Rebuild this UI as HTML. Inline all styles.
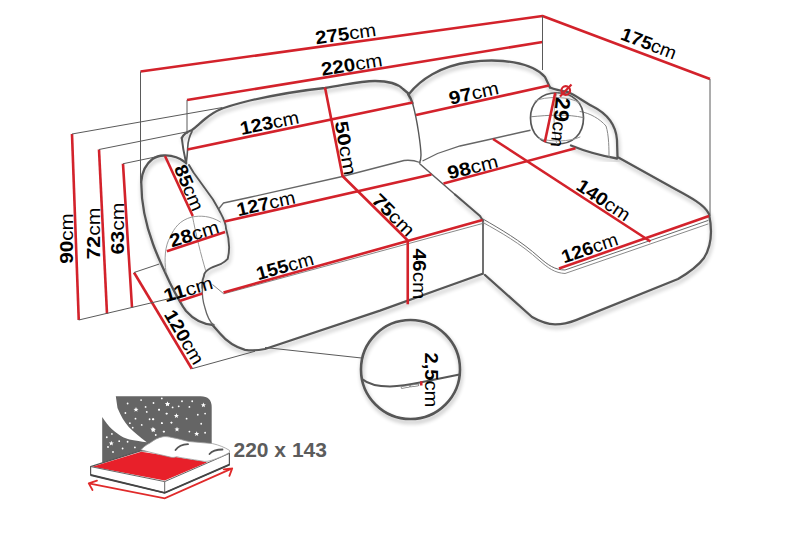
<!DOCTYPE html>
<html><head><meta charset="utf-8"><style>
html,body{margin:0;padding:0;background:#fff;width:800px;height:533px;overflow:hidden}
svg{display:block;font-family:"Liberation Sans",sans-serif}
</style></head><body>
<svg width="800" height="533" viewBox="0 0 800 533">
<defs><filter id="sh" x="-20%" y="-20%" width="140%" height="140%"><feGaussianBlur in="SourceAlpha" stdDeviation="2.2"/><feOffset dx="1" dy="3"/><feComponentTransfer><feFuncA type="linear" slope="0.3"/></feComponentTransfer><feMerge><feMergeNode/><feMergeNode in="SourceGraphic"/></feMerge></filter></defs>
<path d="M181.75,138 C184,133 188,131.5 192,130 C196,127 200,123 205,119 C210,115 214,112 220,109.5 C228,106 238,103.5 250,100.5 C275,95 300,90.5 325,88 C345,85 360,81 375,81 C388,81 398,84 403,89 L409,94" stroke="#575757" stroke-width="2.3" fill="none" stroke-linejoin="round" stroke-linecap="round" filter="url(#sh)"/>
<path d="M408,94 C410,97 411.5,100 412.5,103" stroke="#575757" stroke-width="2.3" fill="none" stroke-linejoin="round" stroke-linecap="round" filter="url(#sh)"/>
<path d="M412.5,103 C415,112 417,122 418.5,132 C420,142 421,150 421,155 C421,159 420.5,161 419.5,163" stroke="#575757" stroke-width="1.4" fill="none" stroke-linejoin="round" stroke-linecap="round" />
<path d="M181.75,138 C183,150 185,158 186.25,163.5" stroke="#575757" stroke-width="2" fill="none" stroke-linejoin="round" stroke-linecap="round" />
<path d="M409,94 C420,80 440,66 470,62 C500,58 532,62 545,77 L550,87.5" stroke="#575757" stroke-width="2.3" fill="none" stroke-linejoin="round" stroke-linecap="round" filter="url(#sh)"/>
<path d="M550,87.5 C556,90 562,91 568,92 C575,95 583,101 592,106 C608,114 616,125 617,140 L617.5,157 L675,189 C690,197 705,205 709,214 C712,228 712,245 704,258 C698,266 690,272 678,279 L576,320.1 C569,322.8 562,324.5 555,324.4 C547,324.2 540,321.5 532,317 L485,275" stroke="#575757" stroke-width="2.3" fill="none" stroke-linejoin="round" stroke-linecap="round" filter="url(#sh)"/>
<path d="M483,220 L483,274" stroke="#575757" stroke-width="1.7" fill="none" stroke-linejoin="round" stroke-linecap="round" />
<path d="M482,274 L440,289 L380,310.6 L265,349 C258,350.5 250,350.5 245,349.8 C235,347 228,343 220,333.5 L212.5,325" stroke="#575757" stroke-width="2.3" fill="none" stroke-linejoin="round" stroke-linecap="round" filter="url(#sh)"/>
<path d="M420,164 L455,194.5" stroke="#5e5e5e" stroke-width="1.5" fill="none" stroke-linejoin="round" stroke-linecap="round" />
<path d="M455,194.5 L480,216 L482.5,220" stroke="#575757" stroke-width="2.1" fill="none" stroke-linejoin="round" stroke-linecap="round" filter="url(#sh)"/>
<path d="M213.5,325 C204,324.5 194,320 186,311 C180,303 175,293 170,283 C165,272 158,258 153,244 C146,225 141,205 141.3,181.5 C142,172 146,164 152.5,159 C156,156.5 160,155.6 164,155.5 C171,155.2 178,156.5 186,162.75" stroke="#575757" stroke-width="2.3" fill="none" stroke-linejoin="round" stroke-linecap="round" filter="url(#sh)"/>
<path d="M189,165 L193.5,172.5 L213,199.5 L219,210 C222,216 226,222 226,228.5 C229,238 230,250 227.7,258.9 C225,262 223,263 220.9,264 C215,266 212,267 209.1,269 C206,271 204,273 204,275.8 C202,280 202,284 202.35,288" stroke="#575757" stroke-width="1.9" fill="none" stroke-linejoin="round" stroke-linecap="round" filter="url(#sh)"/>
<path d="M202.35,288 C202,295 203,302 205,308 C207,316 209,321 213.5,325" stroke="#666" stroke-width="1.3" fill="none" stroke-linejoin="round" stroke-linecap="round" />
<path d="M192,131.5 C189.5,136 188,142 187.75,147 C187.5,152 187,158 186.25,163.5" stroke="#575757" stroke-width="1.6" fill="none" stroke-linejoin="round" stroke-linecap="round" />
<path d="M219,208.5 L223.5,203 L250,197.25 L342.3,176.5 L404,160.5 C412,159.5 416,161 420,162.5" stroke="#666" stroke-width="1.3" fill="none" stroke-linejoin="round" stroke-linecap="round" />
<path d="M422.5,161 L437.5,153.5 L460,146 L487,140 L520,132.5 L530.5,130.25" stroke="#666" stroke-width="1.3" fill="none"/>
<path d="M571,145.5 C582,150 597,155 617,158.5" stroke="#575757" stroke-width="2.3" fill="none" stroke-linejoin="round" stroke-linecap="round" filter="url(#sh)"/>
<path d="M580,111.5 C590,113 600,119 606,126 C609,135 609,150 609,157.5" stroke="#888" stroke-width="1" fill="none" stroke-linejoin="round" stroke-linecap="round" />
<path d="M483,219 C500,229 520,240 540,258 C548,265 555,270 565,270 L708,220.5" stroke="#6a6a6a" stroke-width="1" fill="none" stroke-linejoin="round" stroke-linecap="round" />
<path d="M483,222.5 C500,232 520,243 540,261 C548,268 555,273 565,273.5 L708,224" stroke="#8a8a8a" stroke-width="1" fill="none" stroke-linejoin="round" stroke-linecap="round" />
<path d="M212.5,284.5 L223.75,293.8 L482.5,223.5" stroke="#888" stroke-width="1" fill="none"/>
<path d="M166,272 C164,260 165,245 170.3,237 C174,228 180,220 192,217 C200,215.5 210,215.5 220.5,222" stroke="#999" stroke-width="1" fill="none" stroke-linejoin="round" stroke-linecap="round" />
<path d="M192.2,215 C196,235 201,255 205.7,270.7" stroke="#999" stroke-width="1" fill="none" stroke-linejoin="round" stroke-linecap="round" />
<path d="M557,92.75 C573,92.75 583.5,103 583.5,118 C583.5,134 573,144 557,144 C541,144 530.5,134 530.5,118 C530.5,103 541,92.75 557,92.75 Z" stroke="#575757" stroke-width="1.7" fill="none" stroke-linejoin="round" stroke-linecap="round" />
<path d="M531.25,116.75 C540,116 550,115 557.5,115.25 C567,115 576,116 583,117.5" stroke="#888" stroke-width="1" fill="none" stroke-linejoin="round" stroke-linecap="round" />
<path d="M535,101 C545,96 570,96 580,103" stroke="#999" stroke-width="1" fill="none" stroke-linejoin="round" stroke-linecap="round" />
<path d="M539.5,138.5 C550,142 570,142 580,137" stroke="#999" stroke-width="1" fill="none" stroke-linejoin="round" stroke-linecap="round" />
<path d="M557,93 C553,105 553,130 557,145" stroke="#aaa" stroke-width="1" fill="none" stroke-linejoin="round" stroke-linecap="round" />
<path d="M140.5,71.5 L542.5,16 L710,79" stroke="#d3222b" stroke-width="2.6" fill="none" stroke-linejoin="round"/>
<path d="M187,100 L542.5,42" stroke="#d3222b" stroke-width="2.6" fill="none" stroke-linejoin="round"/>
<path d="M187.5,149.5 L412.5,102.5" stroke="#d3222b" stroke-width="2.6" fill="none" stroke-linejoin="round"/>
<path d="M416,115 L549,85.5" stroke="#d3222b" stroke-width="2.6" fill="none" stroke-linejoin="round"/>
<path d="M325,87.5 L342.5,176 L407.75,240.5 L407.75,304.25" stroke="#d3222b" stroke-width="2.6" fill="none" stroke-linejoin="round"/>
<path d="M224.5,221.6 L431.5,174.5" stroke="#d3222b" stroke-width="2.6" fill="none" stroke-linejoin="round"/>
<path d="M443.5,183.5 L575.5,148.25" stroke="#d3222b" stroke-width="2.6" fill="none" stroke-linejoin="round"/>
<path d="M493,139 L650.5,241.5" stroke="#d3222b" stroke-width="2.6" fill="none" stroke-linejoin="round"/>
<path d="M559,268.5 L709,216" stroke="#d3222b" stroke-width="2.6" fill="none" stroke-linejoin="round"/>
<path d="M223.5,292.5 L482.5,220" stroke="#d3222b" stroke-width="2.6" fill="none" stroke-linejoin="round"/>
<path d="M165,156 L192.75,216" stroke="#d3222b" stroke-width="2.6" fill="none" stroke-linejoin="round"/>
<path d="M166.9,251.3 L225.1,231.9" stroke="#d3222b" stroke-width="2.6" fill="none" stroke-linejoin="round"/>
<path d="M179.55,301.1 L202.35,293.5" stroke="#d3222b" stroke-width="2.6" fill="none" stroke-linejoin="round"/>
<path d="M134,272.5 L191.75,368.75" stroke="#d3222b" stroke-width="2.6" fill="none" stroke-linejoin="round"/>
<path d="M72,134 L78.75,320" stroke="#d3222b" stroke-width="2.6" fill="none" stroke-linejoin="round"/>
<path d="M99,149.5 L107,313.75" stroke="#d3222b" stroke-width="2.6" fill="none" stroke-linejoin="round"/>
<path d="M123,163.75 L132,307.5" stroke="#d3222b" stroke-width="2.6" fill="none" stroke-linejoin="round"/>
<path d="M555.25,92.75 L544.75,142.25" stroke="#d3222b" stroke-width="2.6" fill="none" stroke-linejoin="round"/>
<circle cx="565.75" cy="90.5" r="4.3" stroke="#d3222b" stroke-width="2.2" fill="none"/>
<path d="M560,96.5 L571.5,84.5" stroke="#d3222b" stroke-width="2.2" fill="none" stroke-linejoin="round"/>
<path d="M140.5,71.5 L140.5,183" stroke="#5a5a5a" stroke-width="1.0" fill="none"/>
<path d="M187,100 L187,134" stroke="#5a5a5a" stroke-width="1.0" fill="none"/>
<path d="M542.5,16 L542.5,70" stroke="#5a5a5a" stroke-width="1.0" fill="none"/>
<path d="M710,79 L710,216" stroke="#5a5a5a" stroke-width="1.0" fill="none"/>
<path d="M72,134 L222.5,107.5" stroke="#5a5a5a" stroke-width="1.0" fill="none"/>
<path d="M99,149.5 L190,131.25" stroke="#5a5a5a" stroke-width="1.0" fill="none"/>
<path d="M123,163.75 L160,156" stroke="#5a5a5a" stroke-width="1.0" fill="none"/>
<path d="M78.75,320 L180.4,296" stroke="#5a5a5a" stroke-width="1.0" fill="none"/>
<path d="M134,272.5 L159.3,264" stroke="#5a5a5a" stroke-width="1.0" fill="none"/>
<path d="M191.75,368.75 L255,351.25" stroke="#5a5a5a" stroke-width="1.0" fill="none"/>
<path d="M265,347.5 L361.5,358" stroke="#5a5a5a" stroke-width="1.0" fill="none"/>
<circle cx="410.5" cy="369.5" r="49.5" stroke="#575757" stroke-width="2.6" fill="none" filter="url(#sh)"/>
<path d="M362,379 C368,384 378,386.5 390,386.5 C400,386 410,384.5 420,382.5 L459.5,374.5" stroke="#575757" stroke-width="2.2" fill="none" stroke-linejoin="round" stroke-linecap="round" />
<path d="M402,387.5 L409,386.3 M411,386 L418,385" stroke="#777" stroke-width="2.6" fill="none" stroke-linejoin="round" stroke-linecap="round" />
<path d="M402,387.5 L409,386.3 M411,386 L418,385" stroke="#fff" stroke-width="1.0" fill="none" stroke-linejoin="round" stroke-linecap="round" />
<rect x="420" y="381.3" width="2.5" height="4.2" fill="#d3222b"/>
<text transform="translate(316.1990277201817,44.34622900215229) rotate(-8) scale(1.104,1)" font-size="18.5"><tspan font-weight="bold">275</tspan>cm</text>
<text transform="translate(322.2223400381555,75.72509804585248) rotate(-9) scale(1.113,1)" font-size="18.5"><tspan font-weight="bold">220</tspan>cm</text>
<text transform="translate(619.5,39) rotate(21) scale(1.045,1)" font-size="18.5"><tspan font-weight="bold">175</tspan>cm</text>
<text transform="translate(241.52897660624663,135.02051912251406) rotate(-11.5) scale(1.076,1)" font-size="18.5"><tspan font-weight="bold">123</tspan>cm</text>
<text transform="translate(450.55095542802707,104.74800439674179) rotate(-12.5) scale(1.116,1)" font-size="18.5"><tspan font-weight="bold">97</tspan>cm</text>
<text transform="translate(334.6964365481486,122.2452800195126) rotate(80) scale(1.207,1)" font-size="18.5"><tspan font-weight="bold">50</tspan>cm</text>
<text transform="translate(370.6464466094067,201.26776695296638) rotate(45) scale(1.139,1)" font-size="18.5"><tspan font-weight="bold">75</tspan>cm</text>
<text transform="translate(412.5,248.5) rotate(90) scale(1.128,1)" font-size="18.5"><tspan font-weight="bold">46</tspan>cm</text>
<text transform="translate(238.2009554280271,216.1480043967418) rotate(-12.5) scale(1.072,1)" font-size="18.5"><tspan font-weight="bold">127</tspan>cm</text>
<text transform="translate(449.3331785696755,179.46352169381433) rotate(-14) scale(1.139,1)" font-size="18.5"><tspan font-weight="bold">98</tspan>cm</text>
<text transform="translate(575.005980344099,188.80276571841281) rotate(33.5) scale(1.082,1)" font-size="18.5"><tspan font-weight="bold">140</tspan>cm</text>
<text transform="translate(564,263.5) rotate(-19) scale(1.054,1)" font-size="18.5"><tspan font-weight="bold">126</tspan>cm</text>
<text transform="translate(258.364488017326,280.17820730373467) rotate(-15.5) scale(1.057,1)" font-size="18.5"><tspan font-weight="bold">155</tspan>cm</text>
<text transform="translate(173.7599738483106,168.00660154618635) rotate(67) scale(1.070,1)" font-size="18.5"><tspan font-weight="bold">85</tspan>cm</text>
<text transform="translate(171.69486231304714,247.39208542922182) rotate(-17) scale(1.125,1)" font-size="18.5"><tspan font-weight="bold">28</tspan>cm</text>
<text transform="translate(165.7247177296638,302.2662551880905) rotate(-16) scale(1.139,1)" font-size="18.5"><tspan font-weight="bold">11</tspan>cm</text>
<text transform="translate(163.5,314.5) rotate(59.5) scale(1.081,1)" font-size="18.5"><tspan font-weight="bold">120</tspan>cm</text>
<text transform="translate(72.5,263.8) rotate(-90) scale(1.116,1)" font-size="18.5"><tspan font-weight="bold">90</tspan>cm</text>
<text transform="translate(100.2,259.5) rotate(-90) scale(1.150,1)" font-size="18.5"><tspan font-weight="bold">72</tspan>cm</text>
<text transform="translate(123.8,254.5) rotate(-90) scale(1.150,1)" font-size="18.5"><tspan font-weight="bold">63</tspan>cm</text>
<text transform="translate(555.9036886936799,96.8377292004668) rotate(96) scale(1.040,1)" font-size="18.5"><tspan font-weight="bold" font-size="21">29</tspan>cm</text>
<text transform="translate(424.8,352.4) rotate(90) scale(1.092,1)" font-size="18.5"><tspan font-weight="bold">2,5</tspan>cm</text>
<path d="M115.8,396.2 L200.6,396.2 Q211.7,396.2 211.7,407.3 L211.7,462 L102.2,470 L102.2,417 C108.5,427.1 115.25,432.75 123.1,437.25 C128,439.5 134.4,440.6 146.75,442.3 C140,437.25 134.4,432.75 128.75,427.1 C124,421.5 120.9,415.9 117.5,408 Z" fill="#656565"/>
<polygon points="136.00,407.10 136.69,408.75 138.47,408.90 137.11,410.06 137.53,411.80 136.00,410.87 134.47,411.80 134.89,410.06 133.53,408.90 135.31,408.75" fill="#fff"/>
<polygon points="167.60,401.50 168.29,403.15 170.07,403.30 168.71,404.46 169.13,406.20 167.60,405.27 166.07,406.20 166.49,404.46 165.13,403.30 166.91,403.15" fill="#fff"/>
<polygon points="152.90,426.80 153.59,428.45 155.37,428.60 154.01,429.76 154.43,431.50 152.90,430.57 151.37,431.50 151.79,429.76 150.43,428.60 152.21,428.45" fill="#fff"/>
<polygon points="111.30,440.80 111.99,442.45 113.77,442.60 112.41,443.76 112.83,445.50 111.30,444.57 109.77,445.50 110.19,443.76 108.83,442.60 110.61,442.45" fill="#fff"/>
<polygon points="167.40,401.40 168.09,403.05 169.87,403.20 168.51,404.36 168.93,406.10 167.40,405.17 165.87,406.10 166.29,404.36 164.93,403.20 166.71,403.05" fill="#fff"/>
<polygon points="203.40,402.60 204.09,404.25 205.87,404.40 204.51,405.56 204.93,407.30 203.40,406.37 201.87,407.30 202.29,405.56 200.93,404.40 202.71,404.25" fill="#fff"/>
<polygon points="176.40,413.30 177.09,414.95 178.87,415.10 177.51,416.26 177.93,418.00 176.40,417.07 174.87,418.00 175.29,416.26 173.93,415.10 175.71,414.95" fill="#fff"/>
<polygon points="153.40,427.40 154.09,429.05 155.87,429.20 154.51,430.36 154.93,432.10 153.40,431.17 151.87,432.10 152.29,430.36 150.93,429.20 152.71,429.05" fill="#fff"/>
<polygon points="177.00,426.80 177.69,428.45 179.47,428.60 178.11,429.76 178.53,431.50 177.00,430.57 175.47,431.50 175.89,429.76 174.53,428.60 176.31,428.45" fill="#fff"/>
<polygon points="196.70,431.30 197.39,432.95 199.17,433.10 197.81,434.26 198.23,436.00 196.70,435.07 195.17,436.00 195.59,434.26 194.23,433.10 196.01,432.95" fill="#fff"/>
<circle cx="127.6" cy="403.5" r="0.9" fill="#fff"/>
<circle cx="141.1" cy="400.1" r="0.9" fill="#fff"/>
<circle cx="145.6" cy="406.9" r="0.9" fill="#fff"/>
<circle cx="146.75" cy="411.9" r="0.9" fill="#fff"/>
<circle cx="153.5" cy="403" r="0.9" fill="#fff"/>
<circle cx="159.1" cy="409.7" r="0.9" fill="#fff"/>
<circle cx="166.4" cy="413.6" r="0.9" fill="#fff"/>
<circle cx="161.9" cy="423.2" r="0.9" fill="#fff"/>
<circle cx="171.5" cy="422.6" r="0.9" fill="#fff"/>
<circle cx="172.6" cy="407.4" r="0.9" fill="#fff"/>
<circle cx="135.5" cy="418.7" r="0.9" fill="#fff"/>
<circle cx="149.6" cy="419.25" r="0.9" fill="#fff"/>
<circle cx="152.9" cy="419.25" r="0.9" fill="#fff"/>
<circle cx="129.9" cy="423.2" r="0.9" fill="#fff"/>
<circle cx="141.7" cy="424.9" r="0.9" fill="#fff"/>
<circle cx="132.7" cy="427.7" r="0.9" fill="#fff"/>
<circle cx="163.6" cy="431.6" r="0.9" fill="#fff"/>
<circle cx="111.9" cy="433.9" r="0.9" fill="#fff"/>
<circle cx="106.8" cy="437.25" r="0.9" fill="#fff"/>
<circle cx="127.6" cy="441.75" r="0.9" fill="#fff"/>
<circle cx="119.2" cy="441.2" r="0.9" fill="#fff"/>
<circle cx="122.6" cy="448.5" r="0.9" fill="#fff"/>
<circle cx="134.9" cy="447.4" r="0.9" fill="#fff"/>
<circle cx="125.4" cy="413" r="0.9" fill="#fff"/>
<circle cx="155.75" cy="435" r="0.9" fill="#fff"/>
<circle cx="192.2" cy="401.25" r="0.9" fill="#fff"/>
<circle cx="178.7" cy="406.3" r="0.9" fill="#fff"/>
<circle cx="189.4" cy="406.9" r="0.9" fill="#fff"/>
<circle cx="159" cy="409.7" r="0.9" fill="#fff"/>
<circle cx="166.9" cy="413.6" r="0.9" fill="#fff"/>
<circle cx="197.8" cy="414.75" r="0.9" fill="#fff"/>
<circle cx="205.1" cy="413.6" r="0.9" fill="#fff"/>
<circle cx="186.6" cy="418.7" r="0.9" fill="#fff"/>
<circle cx="153.4" cy="419.25" r="0.9" fill="#fff"/>
<circle cx="161.8" cy="423.2" r="0.9" fill="#fff"/>
<circle cx="171.4" cy="422.6" r="0.9" fill="#fff"/>
<circle cx="201.2" cy="423.75" r="0.9" fill="#fff"/>
<circle cx="164.1" cy="431.6" r="0.9" fill="#fff"/>
<circle cx="189.4" cy="431.6" r="0.9" fill="#fff"/>
<circle cx="205.1" cy="432.75" r="0.9" fill="#fff"/>
<circle cx="182" cy="401.25" r="0.9" fill="#fff"/>
<circle cx="161.8" cy="398.4" r="0.9" fill="#fff"/>
<circle cx="113" cy="452" r="0.9" fill="#fff"/>
<circle cx="108" cy="447" r="0.9" fill="#fff"/>
<circle cx="118" cy="428" r="0.9" fill="#fff"/>
<path d="M90.6,466.6 L141.25,450.6 L229.4,453.4 L229.4,464.7 L164.7,492.8 L90.6,475 Z" fill="#fff" stroke="#555" stroke-width="1.2" stroke-linejoin="round"/>
<path d="M92.5,466.8 L141.25,451.8 L204.3,461.4 L207,462.5 L164.7,480.6 Z" fill="#e8202a"/>
<path d="M90.6,466.6 L164.7,481.6 L229.4,453.4 M164.7,481.6 L164.7,492.8" stroke="#666" stroke-width="1" fill="none"/>
<path d="M90.6,475 L164.7,492.8 L229.4,464.7" stroke="#444" stroke-width="1.8" fill="none"/>
<path d="M141,449.75 C143,447.5 146,445 150,443 C154,440 158,437.5 163,436.7 C166,436.3 169,437 171.25,437.4 C178,438.5 184,440.5 189,441.5 C197,442.3 205,442.8 212.5,443.6 C219,445 225,447.5 229.5,450.4 L229.5,452.5 C225,455 219,458 210,460.8 C208,461.2 206,461.5 204.3,461.4 C196,460 186,458.5 180,457.5 C178,457 177,456.6 176.5,456.6 C175,457.5 173,457.5 171.25,457.3 C162,455 150,452.5 141,449.75 Z" fill="#fff" stroke="#999" stroke-width="0.8"/>
<path d="M175.5,450 C178,446.5 182,444.5 188,444.2" stroke="#555" stroke-width="1.8" fill="none" stroke-linecap="round"/>
<path d="M209.5,454 C212,451 216,449.5 222.5,449.5" stroke="#555" stroke-width="1.8" fill="none" stroke-linecap="round"/>
<path d="M88.75,483.4 L164.7,498.4 L232.2,468.4 M88.75,483.4 L97,480.6 M88.75,483.4 L92.5,490 M232.2,468.4 L223.8,469.4 M232.2,468.4 L229.4,475.9" stroke="#e02a2a" stroke-width="1.8" fill="none" stroke-linecap="round"/>
<text x="233.5" y="456.7" font-size="21" font-weight="bold" fill="#5c5c5c">220 x 143</text>
</svg></body></html>
